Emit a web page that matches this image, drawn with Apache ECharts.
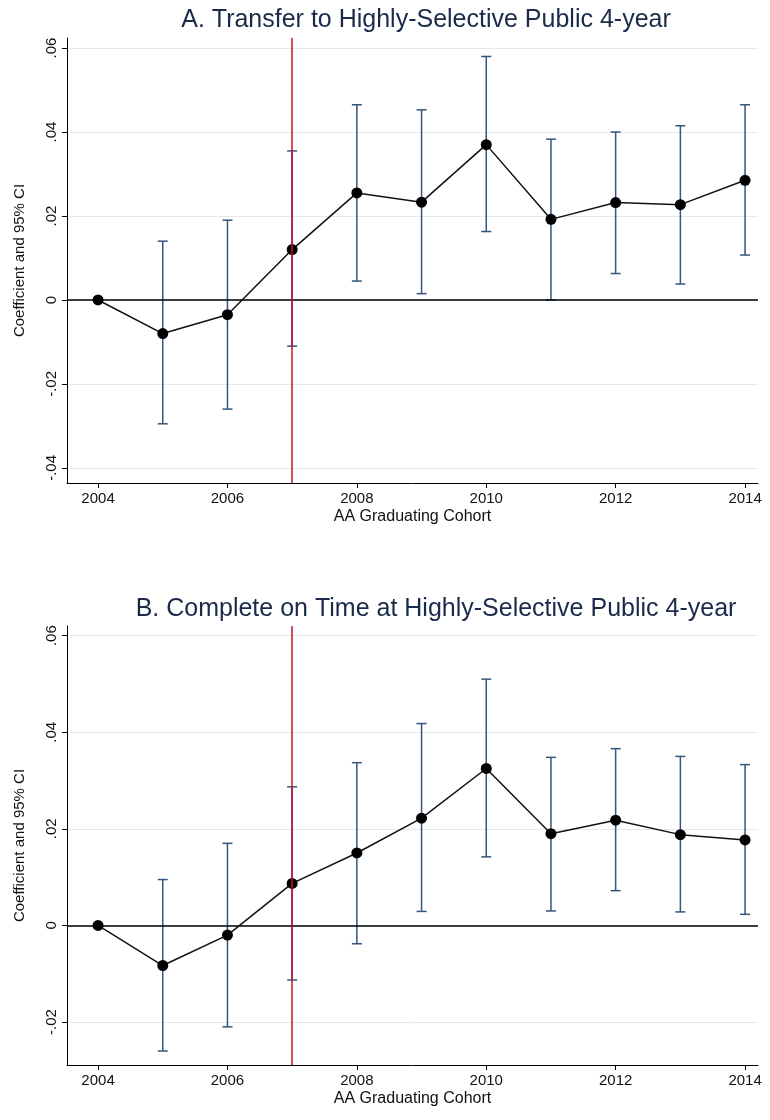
<!DOCTYPE html>
<html><head><meta charset="utf-8">
<script src="https://cdn.jsdelivr.net/npm/echarts@6/dist/echarts.min.js"></script>
<style>html,body{margin:0;background:#fff}#c{width:770px;height:1120px}</style>
</head><body><div id="c"></div>
<script>
const years=[2004,2005,2006,2007,2008,2009,2010,2011,2012,2013,2014];
const coefA=[0,-0.008,-0.0035,0.012,0.0255,0.0233,0.037,0.0192,0.0232,0.0227,0.0285];
const loA=[null,-0.0295,-0.026,-0.011,0.0045,0.0015,0.0163,0.0,0.0063,0.0038,0.0107];
const hiA=[null,0.014,0.019,0.0355,0.0465,0.0453,0.058,0.0383,0.040,0.0415,0.0465];
const coefB=[0,-0.0083,-0.002,0.0087,0.015,0.0222,0.0325,0.019,0.0218,0.0188,0.0177];
const loB=[null,-0.026,-0.021,-0.0113,-0.0038,0.0029,0.0142,0.003,0.0072,0.0028,0.0023];
const hiB=[null,0.0095,0.017,0.0287,0.0337,0.0418,0.051,0.0348,0.0366,0.035,0.0333];
const xTicks=[2004,2006,2008,2010,2012,2014];
const yTicksA=[-0.04,-0.02,0,0.02,0.04,0.06];
const yTicksB=[-0.02,0,0.02,0.04,0.06];
const fmt=v=>{if(Math.abs(v)<1e-9)return '0';let s=(Math.round(v*100)/100).toString();return s.replace('0.','.');};
const ch=echarts.init(document.getElementById('c'));
const F='Arial, Liberation Sans, sans-serif';
function xAx(i){return {type:'value',gridIndex:i,min:2003.52,max:2014.2,name:'AA Graduating Cohort',nameLocation:'middle',nameGap:26,nameTextStyle:{fontSize:16,color:'#111',fontFamily:F},
 axisLine:{onZero:false,lineStyle:{color:'#000'}},axisTick:{customValues:xTicks,length:5,lineStyle:{color:'#000'}},
 axisLabel:{customValues:xTicks,fontSize:15,color:'#111',fontFamily:F,formatter:v=>String(v)},splitLine:{show:false}};}
function yAx(i,mn,mx,t){return {type:'value',gridIndex:i,min:mn,max:mx,name:'Coefficient and 95% CI',nameLocation:'middle',nameGap:40,nameTextStyle:{fontSize:15,color:'#111',fontFamily:F},
 axisLine:{show:true,lineStyle:{color:'#000'}},axisTick:{show:true,customValues:t,length:5,lineStyle:{color:'#000'}},
 axisLabel:{customValues:t,rotate:90,fontSize:15,color:'#111',fontFamily:F,formatter:fmt},
 splitLine:{show:true,customValues:t,lineStyle:{color:'#e8e8e8'}}};}
function bars(i,lo,hi){return {type:'custom',xAxisIndex:i,yAxisIndex:i,z:2,
 data:years.map((y,k)=>[y,lo[k],hi[k]]).filter(d=>d[1]!==null),
 renderItem:(p,api)=>{const a=api.coord([api.value(0),api.value(1)]),b=api.coord([api.value(0),api.value(2)]);const s={stroke:'#34557d',lineWidth:1.5};
 return {type:'group',children:[{type:'line',shape:{x1:a[0],y1:a[1],x2:b[0],y2:b[1]},style:s},
 {type:'line',shape:{x1:a[0]-5,y1:a[1],x2:a[0]+5,y2:a[1]},style:s},{type:'line',shape:{x1:b[0]-5,y1:b[1],x2:b[0]+5,y2:b[1]},style:s}]};}};}
function pts(i,c){return {type:'line',xAxisIndex:i,yAxisIndex:i,z:3,data:years.map((y,k)=>[y,c[k]]),symbol:'circle',symbolSize:11,
 lineStyle:{color:'#111',width:1.5},itemStyle:{color:'#000'},
 markLine:{silent:true,symbol:'none',label:{show:false},animation:false,data:[
 {yAxis:0,lineStyle:{color:'#000',width:1.5,type:'solid'}},{xAxis:2007,lineStyle:{color:'#c8102e',width:1.5,type:'solid'}}]}};}
ch.setOption({animation:false,
 title:[{text:'A. Transfer to Highly-Selective Public 4-year',left:421,top:3,textAlign:'center',textStyle:{fontSize:25,fontWeight:'normal',color:'#1a2a4a',fontFamily:F}},
 {text:'B. Complete on Time at Highly-Selective Public 4-year',left:431,top:592,textAlign:'center',textStyle:{fontSize:25,fontWeight:'normal',color:'#1a2a4a',fontFamily:F}}],
 grid:[{left:67,right:12,top:38,height:445},{left:67,right:12,top:626,height:439}],
 xAxis:[xAx(0),xAx(1)],
 yAxis:[yAx(0,-0.0436,0.0624,yTicksA),yAx(1,-0.0289,0.062,yTicksB)],
 series:[bars(0,loA,hiA),pts(0,coefA),bars(1,loB,hiB),pts(1,coefB)]});
</script></body></html>
